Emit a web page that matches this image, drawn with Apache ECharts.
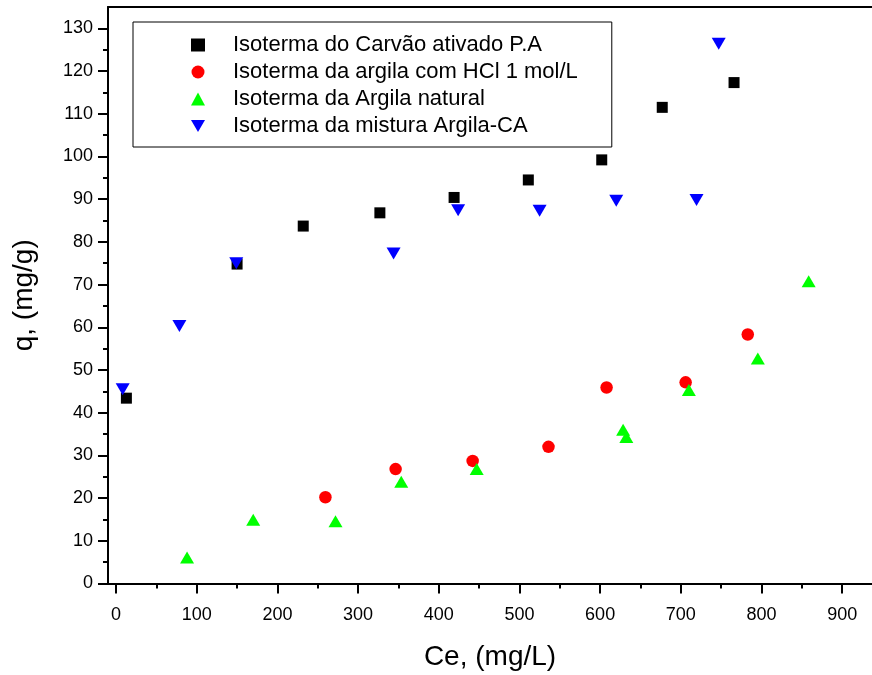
<!DOCTYPE html>
<html>
<head>
<meta charset="utf-8">
<script src="https://cdn.jsdelivr.net/npm/echarts@6/dist/echarts.min.js"></script>
<style>
  html, body { margin: 0; padding: 0; background: #fff; }
  #main { width: 872px; height: 675px; }
</style>
</head>
<body>
<div id="main"></div>
<script>
// dados
var carvaoX = [12.8, 150, 232, 327, 419, 511, 602, 677, 766];
var carvaoY = [43.4, 74.8, 83.7, 86.8, 90.4, 94.5, 99.2, 111.5, 117.3];

var hclX = [259.5, 346.5, 442, 536, 608, 706, 783];
var hclY = [20.2, 26.8, 28.7, 32.0, 45.9, 47.1, 58.3];

var naturalX = [88, 170, 272, 353.5, 447, 628.5, 632.5, 710, 795.5, 858.5];
var naturalY = [6.1, 14.9, 14.6, 23.8, 26.8, 36.0, 34.3, 45.3, 52.7, 70.8];

var misturaX = [8.2, 78.5, 149, 344, 424, 525, 620, 719.5, 747];
var misturaY = [45.5, 60.3, 75.0, 77.3, 87.4, 87.3, 89.6, 89.8, 126.4];

var xMajor = [0, 100, 200, 300, 400, 500, 600, 700, 800, 900];
var xMinor = [50, 150, 250, 350, 450, 550, 650, 750, 850];
var yMajor = [0, 10, 20, 30, 40, 50, 60, 70, 80, 90, 100, 110, 120, 130];
var yMinor = [5, 15, 25, 35, 45, 55, 65, 75, 85, 95, 105, 115, 125];

var nomes = [
  'Isoterma do Carvão ativado P.A',
  'Isoterma da argila com HCl 1 mol/L',
  'Isoterma da Argila natural',
  'Isoterma da mistura Argila-CA'
];

function pares(xs, ys) {
  return xs.map(function (x, i) { return [x, ys[i]]; });
}

var fonte = 'Liberation Sans, Arial, sans-serif';
var linha = { show: true, onZero: false, lineStyle: { color: '#000', width: 2 } };
var semNada = { show: false };

// eixo só com marcas (ticks), sem linha nem rótulos
function eixoTicks(pos, min, max, valores, tam) {
  return {
    type: 'value', min: min, max: max, position: pos,
    axisLine: { show: false, onZero: false },
    axisTick: { show: true, length: tam, customValues: valores, lineStyle: { color: '#000', width: 2 } },
    axisLabel: { show: false, customValues: valores },
    splitLine: semNada
  };
}

var chart = echarts.init(document.getElementById('main'));
chart.setOption({
  backgroundColor: '#fff',
  animation: false,
  textStyle: { fontFamily: fonte, color: '#000' },
  grid: { left: 108, top: 7, right: 0, bottom: 91.5, containLabel: false, outerBoundsMode: 'none' },
  legend: {
    orient: 'vertical',
    left: 133,
    top: 22,
    data: [
      { name: nomes[0], icon: 'rect' },
      { name: nomes[1], icon: 'circle' },
      { name: nomes[2], icon: 'triangle' },
      { name: nomes[3], icon: 'path://M0,0 L14,0 L7,12 Z' }
    ],
    itemWidth: 14,
    itemHeight: 13,
    itemGap: 5,
    padding: [12, 34, 10, 58],
    borderColor: '#000',
    borderWidth: 1,
    textStyle: { fontFamily: fonte, fontSize: 22, color: '#000', padding: [0, 0, 0, 23] }
  },
  xAxis: [
    {
      type: 'value', min: -10, max: 937, position: 'bottom',
      name: 'Ce, (mg/L)', nameLocation: 'middle', nameGap: 60,
      nameTextStyle: { fontFamily: fonte, fontSize: 28, color: '#000' },
      axisLine: linha,
      axisTick: { show: false },
      axisLabel: { customValues: xMajor, margin: 23, fontFamily: fonte, fontSize: 18, color: '#000' },
      splitLine: semNada
    },
    eixoTicks('bottom', -10, 937, xMajor, 10),
    eixoTicks('bottom', -10, 937, xMinor, 5),
    {
      type: 'value', min: -10, max: 937, position: 'top',
      axisLine: linha,
      axisTick: semNada,
      axisLabel: semNada,
      splitLine: semNada
    }
  ],
  yAxis: [
    {
      type: 'value', min: 0, max: 135, position: 'left',
      name: 'q, (mg/g)', nameLocation: 'middle', nameGap: 70,
      nameTextStyle: { fontFamily: fonte, fontSize: 28, color: '#000' },
      axisLine: linha,
      axisTick: { show: false },
      axisLabel: { customValues: yMajor, margin: 15, fontFamily: fonte, fontSize: 18, color: '#000' },
      splitLine: semNada
    },
    eixoTicks('left', 0, 135, yMajor, 10),
    eixoTicks('left', 0, 135, yMinor, 5)
  ],
  series: [
    {
      name: nomes[0], type: 'scatter', symbol: 'rect', symbolSize: 11,
      itemStyle: { color: '#000', opacity: 1 },
      data: pares(carvaoX, carvaoY)
    },
    {
      name: nomes[1], type: 'scatter', symbol: 'circle', symbolSize: 12.5,
      itemStyle: { color: '#ff0000', opacity: 1 },
      data: pares(hclX, hclY)
    },
    {
      name: nomes[2], type: 'scatter', symbol: 'triangle', symbolSize: [14, 12],
      itemStyle: { color: '#00ff00', opacity: 1 },
      data: pares(naturalX, naturalY)
    },
    {
      name: nomes[3], type: 'scatter', symbol: 'triangle', symbolSize: [14, 12], symbolRotate: 180,
      itemStyle: { color: '#0000ff', opacity: 1 },
      data: pares(misturaX, misturaY)
    }
  ]
});
</script>
</body>
</html>
